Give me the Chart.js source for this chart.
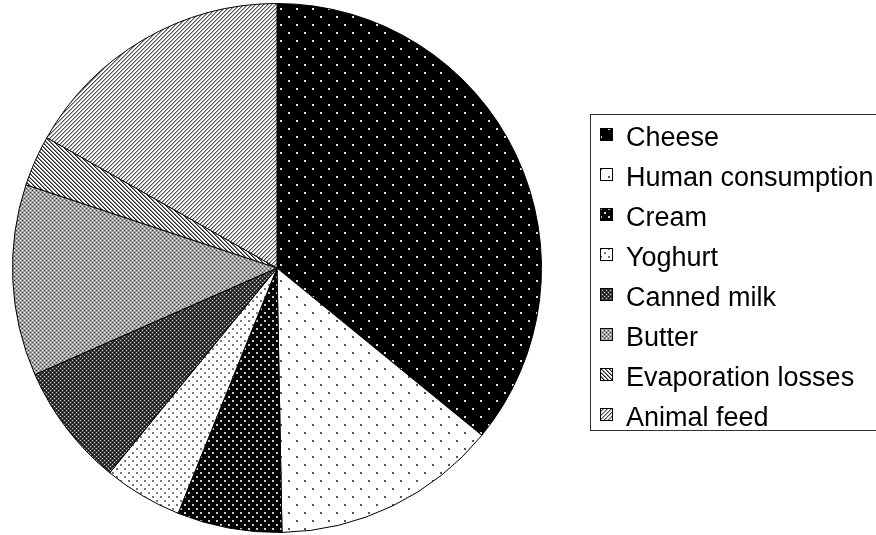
<!DOCTYPE html>
<html>
<head>
<meta charset="utf-8">
<script src="https://cdn.jsdelivr.net/npm/chart.js@4/dist/chart.umd.min.js"></script>
<style>
  html, body { margin: 0; padding: 0; background: #fff; }
  #wrap { width: 876px; height: 535px; }
</style>
</head>
<body>
<div id="wrap"><canvas id="pieChart"></canvas></div>
<script>
const categories = ["Cheese", "Human consumption", "Cream", "Yoghurt", "Canned milk", "Butter", "Evaporation losses", "Animal feed"];
const shares = [35.9, 13.8, 6.4, 4.8, 7.5, 11.7, 3.1, 16.8];

// small tiles drawn into canvas patterns, one per slice
function makeTile(w, h, draw) {
  const c = document.createElement("canvas");
  c.width = w;
  c.height = h;
  const g = c.getContext("2d");
  draw(g);
  return document.getElementById("pieChart").getContext("2d").createPattern(c, "repeat");
}

function dots(bg, fg, size, step) {
  return makeTile(size, size, g => {
    g.fillStyle = bg;
    g.fillRect(0, 0, size, size);
    g.fillStyle = fg;
    g.fillRect(0, 0, 2, 2);
    g.fillRect(step, step, 2, 2);
  });
}

// diagonal hatch, one dark and one mid pixel per row
function lines(dir, dark, mid) {
  return makeTile(4, 4, g => {
    g.fillStyle = "#fff";
    g.fillRect(0, 0, 4, 4);
    for (let i = 0; i < 4; i++) {
      const x = dir > 0 ? (3 - i) : i;
      g.fillStyle = dark;
      g.fillRect(x, i, 1, 1);
      g.fillStyle = mid;
      g.fillRect((x + 1) % 4, i, 1, 1);
    }
  });
}

function grid(bg, light, dark) {
  return makeTile(4, 4, g => {
    g.fillStyle = bg;
    g.fillRect(0, 0, 4, 4);
    g.fillStyle = light;
    g.fillRect(0, 0, 1, 1);
    g.fillRect(2, 2, 1, 1);
    g.fillStyle = dark;
    g.fillRect(2, 0, 1, 1);
    g.fillRect(0, 2, 1, 1);
  });
}

const fills = [
  dots("#000", "#ddd", 16, 8),
  dots("#fff", "#555", 16, 8),
  dots("#000", "#ccc", 8, 4),
  dots("#fff", "#777", 8, 4),
  grid("#3a3a3a", "#ccc", "#000"),
  grid("#a0a0a0", "#fff", "#444"),
  lines(-1, "#222", "#888"),
  lines(1, "#555", "#aaa")
];

// legend drawn in a box at the right, like the original
const boxLegend = {
  id: "boxLegend",
  afterDraw(chart) {
    const ctx = chart.ctx;
    ctx.save();
    ctx.strokeStyle = "#333";
    ctx.lineWidth = 1;
    ctx.strokeRect(590.5, 114.5, 400, 316);
    ctx.font = "27px 'Liberation Sans', Arial, sans-serif";
    ctx.textBaseline = "alphabetic";
    categories.forEach((name, i) => {
      const y = 128 + i * 40;
      ctx.fillStyle = fills[i];
      ctx.fillRect(600, y, 12, 12);
      ctx.strokeStyle = "#000";
      ctx.strokeRect(600.5, y + 0.5, 12, 12);
      ctx.fillStyle = "#000";
      ctx.fillText(name, 626, y + 17.5);
    });
    ctx.restore();
  }
};

new Chart(document.getElementById("pieChart"), {
  type: "pie",
  data: {
    labels: categories,
    datasets: [{
      data: shares,
      backgroundColor: fills,
      borderColor: "#000",
      borderWidth: 1
    }]
  },
  options: {
    responsive: true,
    maintainAspectRatio: false,
    animation: false,
    layout: {
      padding: { left: 12, right: 334, top: 3, bottom: 2 }
    },
    plugins: {
      legend: { display: false },
      tooltip: { enabled: false }
    }
  },
  plugins: [boxLegend]
});
</script>
</body>
</html>
